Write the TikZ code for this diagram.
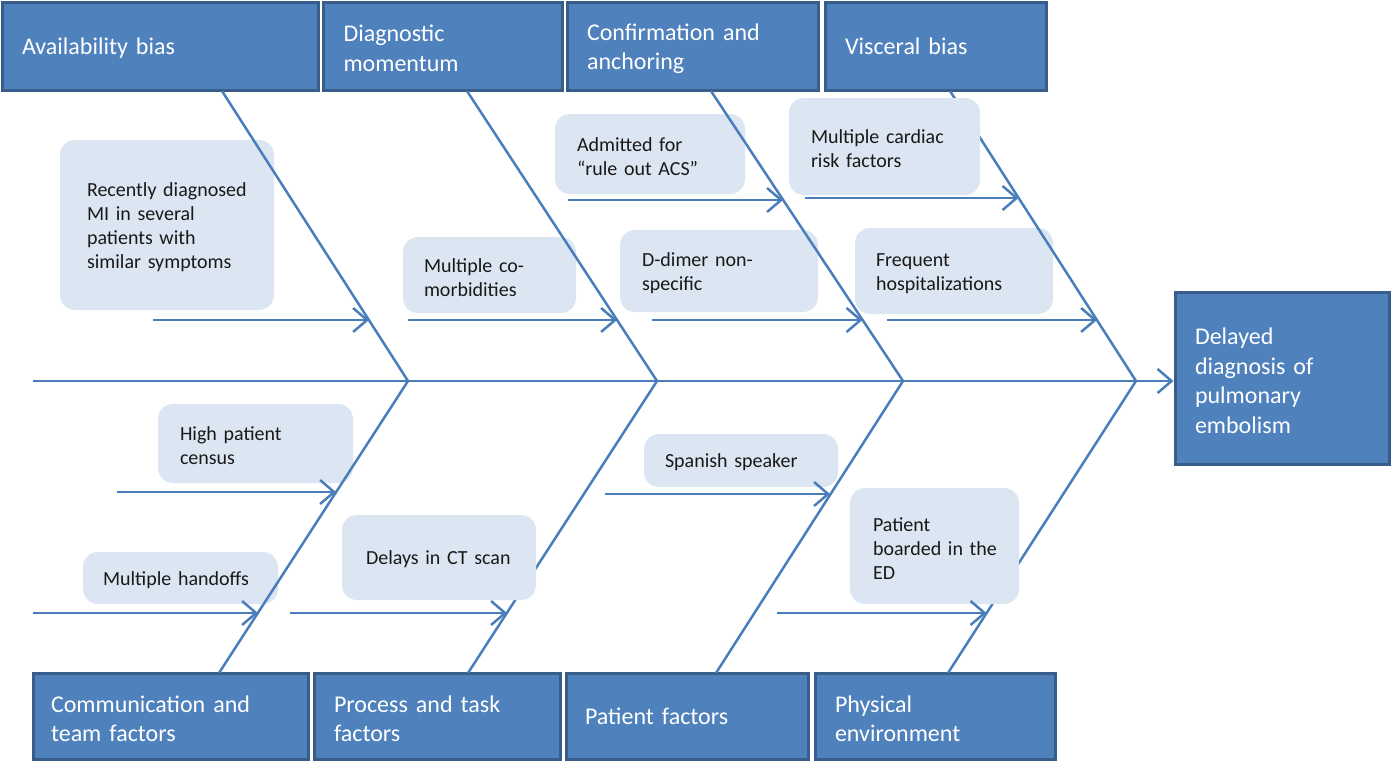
\documentclass[tikz,border=0pt]{standalone}
\usepackage{fontspec}
\setmainfont{Carlito}
\usetikzlibrary{arrows.meta}
\definecolor{boxblue}{HTML}{4F81BD}
\definecolor{boxborder}{HTML}{385D8A}
\definecolor{lightbox}{HTML}{DCE6F2}
\definecolor{bone}{HTML}{4A7EBB}
\tikzset{
  bigbox/.style={draw=boxborder, line width=3pt, fill=boxblue, text=white,
    font=\fontsize{24}{29.5}\selectfont, align=left, inner ysep=0pt, inner xsep=20pt,
    execute at end node={\par\vspace*{-5pt}}},
  lbox/.style={fill=lightbox, rounded corners=15pt, text=black!90,
    font=\fontsize{20}{24}\selectfont, align=left, inner ysep=0pt, inner xsep=22pt,
    execute at end node={\par\vspace*{-5pt}}},
  boneline/.style={draw=bone, line width=2.5pt},
  cause/.style={draw=bone, line width=2.5pt, -{Straight Barb[length=14pt,width=24pt,line width=2.5pt]}},
}
\begin{document}
\begin{tikzpicture}[x=1pt,y=-1pt]
\useasboundingbox (0,0) rectangle (1391,761);

% category boxes
\node[bigbox, minimum width=316pt, minimum height=88pt, text width=276pt] (tb1) at (160,46) {\strut Availability~bias};
\node[bigbox, minimum width=239pt, minimum height=88pt, text width=198pt, inner xsep=20.5pt] (tb2) at (442.5,46) {Diagnostic\\momentum};
\node[bigbox, minimum width=251pt, minimum height=88pt, text width=211pt] (tb3) at (692.5,46) {Confirmation~and\\anchoring};
\node[bigbox, minimum width=221pt, minimum height=88pt, text width=181pt] (tb4) at (935.5,46) {\strut Visceral~bias};

\node[bigbox, minimum width=275pt, minimum height=86pt, text width=239pt, inner xsep=18pt] (bb1) at (170.5,716) {Communication~and\\team~factors};
\node[bigbox, minimum width=246pt, minimum height=86pt, text width=206pt] (bb2) at (437,716) {Process~and~task\\factors};
\node[bigbox, minimum width=242pt, minimum height=86pt, text width=204pt, inner xsep=19pt] (bb3) at (687,716) {\strut Patient~factors};
\node[bigbox, minimum width=240pt, minimum height=86pt, text width=200pt] (bb4) at (935,716) {Physical\\environment};

\node[bigbox, minimum width=214pt, minimum height=172pt, text width=174pt] (res) at (1282,378) {Delayed\\diagnosis~of\\pulmonary\\embolism};

% light boxes drawn under the bones
\node[lbox, minimum width=214pt, minimum height=170pt, text width=160pt, inner xsep=27pt] (lb1) at (167,225) {Recently~diagnosed\\MI~in~several\\patients~with\\similar~symptoms};
\node[lbox, minimum width=173pt, minimum height=76pt, text width=131pt, inner xsep=21pt] (lb2) at (489.5,275) {Multiple~co-\\morbidities};
\node[lbox, minimum width=190pt, minimum height=80pt, text width=146pt] (lb3) at (650,154) {Admitted~for\\“rule~out~ACS”};
\node[lbox, minimum width=198pt, minimum height=82pt, text width=154pt] (lb4) at (719,271) {D-dimer~non-\\specific};
\node[lbox, minimum width=198pt, minimum height=86pt, text width=156pt, inner xsep=21pt] (lb6) at (954,271) {Frequent\\hospitalizations};
\node[lbox, minimum width=195pt, minimum height=79pt, text width=151pt] (lb7) at (255.5,443.5) {High~patient\\census};
\node[lbox, minimum width=195pt, minimum height=52pt, text width=155pt, inner xsep=20pt] (lb8) at (180.5,578) {\strut Multiple~handoffs};
\node[lbox, minimum width=194pt, minimum height=53pt, text width=152pt, inner xsep=21pt] (lb10) at (741,460.5) {\strut Spanish~speaker};

% spine and bones
\coordinate (spL) at (33,381);
\coordinate (s1) at (408,381);
\coordinate (s2) at (657,381);
\coordinate (s3) at (903,381);
\coordinate (s4) at (1136,381);
\coordinate (t1) at (222,91);
\coordinate (t2) at (467,91);
\coordinate (t3) at (711,91);
\coordinate (t4) at (950,91);
\coordinate (b1) at (219,673);
\coordinate (b2) at (468,673);
\coordinate (b3) at (716,673);
\coordinate (b4) at (948,673);

\draw[cause] (spL) -- (spL -| res.west);
\draw[boneline] (t1) -- (s1) -- (b1);
\draw[boneline] (t2) -- (s2) -- (b2);
\draw[boneline] (t3) -- (s3) -- (b3);
\draw[boneline] (t4) -- (s4) -- (b4);

% light boxes drawn over the bones
\node[lbox, minimum width=191pt, minimum height=97pt, text width=147pt] (lb5) at (884.5,146.5) {Multiple~cardiac\\risk~factors};
\node[lbox, minimum width=194pt, minimum height=85pt, text width=146pt, inner xsep=24pt] (lb9) at (439,557.5) {\strut Delays~in~CT~scan};
\node[lbox, minimum width=169pt, minimum height=116pt, text width=123pt, inner xsep=23pt] (lb11) at (934.5,546) {Patient\\boarded~in~the\\ED};

% cause arrows
\coordinate (a1s) at (153,320);  \coordinate (a1e) at (369,320);
\coordinate (a2s) at (408,320);  \coordinate (a2e) at (617,320);
\coordinate (a3s) at (568,200);  \coordinate (a3e) at (783,200);
\coordinate (a4s) at (652,320);  \coordinate (a4e) at (862.5,320);
\coordinate (a5s) at (805,198);  \coordinate (a5e) at (1018.5,198);
\coordinate (a6s) at (887,320);  \coordinate (a6e) at (1097,320);
\coordinate (a7s) at (117,492);  \coordinate (a7e) at (336,492);
\coordinate (a8s) at (33,613);   \coordinate (a8e) at (258,613);
\coordinate (a9s) at (290,613);  \coordinate (a9e) at (507,613);
\coordinate (a10s) at (605,494); \coordinate (a10e) at (830,494);
\coordinate (a11s) at (777,613); \coordinate (a11e) at (986.5,613);
\foreach \i in {1,...,11} {\draw[cause] (a\i s) -- (a\i e);}
\end{tikzpicture}
\end{document}
